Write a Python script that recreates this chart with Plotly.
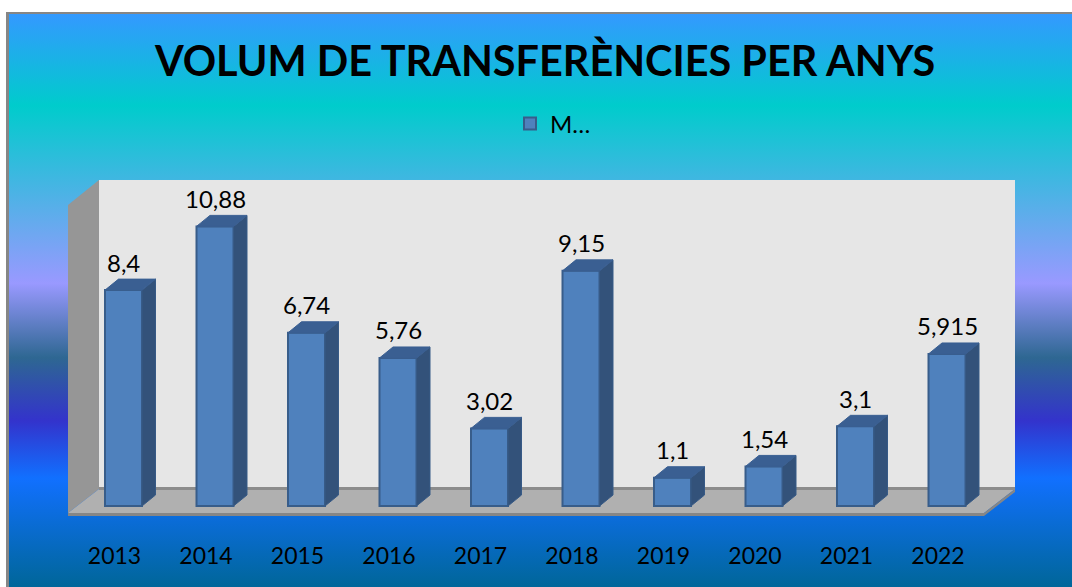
import base64
import plotly.graph_objects as go

years = [2013, 2014, 2015, 2016, 2017, 2018, 2019, 2020, 2021, 2022]
values = [8.4, 10.88, 6.74, 5.76, 3.02, 9.15, 1.1, 1.54, 3.1, 5.915]
labels = ["8,4", "10,88", "6,74", "5,76", "3,02", "9,15", "1,1", "1,54", "3,1", "5,915"]
series_name = "M…"
title_text = "VOLUM DE TRANSFERÈNCIES PER ANYS"
gradient = [(0, "#3399FF"), (16, "#00CCCC"), (47, "#9999FF"), (60, "#2E6792"),
            (71, "#3333CC"), (81, "#1170FF"), (100, "#006699")]

W, H = 1072, 587
L, R, T, B = 68, 1015, 180, 516      # plot box in pixels
X0_PX, PITCH = 123.5, 91.5           # centre of first bar, pixels per year
Y0_PX, UNIT = 506.0, 25.7            # baseline, pixels per value unit
BAR_W = 37 / PITCH
DX, DY = 13.5 / PITCH, 11 / UNIT     # bar depth offset in axis units

def px(x):
    return (x - L) / (R - L)

def py(y):
    return (B - y) / (B - T)

def path(points):
    return "M" + "L".join(f"{px(x):.5f},{py(y):.5f}" for x, y in points) + "Z"

def poly(points, color):
    return dict(type="path", xref="paper", yref="paper", layer="below", path=path(points),
                fillcolor=color, line=dict(width=0))

stops = "".join(f'<stop offset="{o}%" stop-color="{c}"/>' for o, c in gradient)
svg = ('<svg xmlns="http://www.w3.org/2000/svg" width="100" height="573" preserveAspectRatio="none">'
       f'<defs><linearGradient id="g" x1="0" y1="0" x2="0" y2="1">{stops}</linearGradient></defs>'
       '<rect width="100" height="573" fill="url(#g)"/></svg>')
bg_src = "data:image/svg+xml;base64," + base64.b64encode(svg.encode()).decode()

side_x, side_y, top_x, top_y = [], [], [], []
for yr, v in zip(years, values):
    r = yr + BAR_W / 2
    l = yr - BAR_W / 2
    side_x += [r, r + DX, r + DX, r, r, None]
    side_y += [0, DY, v + DY, v, 0, None]
    top_x += [l, l + DX, r + DX, r, l, None]
    top_y += [v, v + DY, v + DY, v, v, None]

fig = go.Figure()
fig.add_trace(go.Bar(x=years, y=values, width=BAR_W, name=series_name, showlegend=True,
                     marker=dict(color="#4F81BD", line=dict(color="#385D8A", width=2))))
fig.add_trace(go.Scatter(x=side_x, y=side_y, mode="lines", fill="toself", fillcolor="#33527A",
                         line=dict(color="#375A86", width=1), showlegend=False, hoverinfo="skip"))
fig.add_trace(go.Scatter(x=top_x, y=top_y, mode="lines", fill="toself", fillcolor="#3A5F92",
                         line=dict(color="#3A5F92", width=1), showlegend=False, hoverinfo="skip"))

annotations = [dict(x=yr, y=v, text=t, showarrow=False, yshift=28, yanchor="middle",
                    font=dict(family="Lato", size=24, color="black"))
               for yr, v, t in zip(years, values, labels)]

shapes = [
    poly([(68, 205), (99, 180), (99, 489), (68, 513)], "#969696"),
    poly([(99, 180), (1015, 180), (1015, 489), (99, 489)], "#E6E6E6"),
    poly([(68, 513), (99, 489), (1015, 489), (984, 513)], "#B0B0B0"),
    poly([(68, 513), (984, 513), (984, 516), (68, 516)], "#868686"),
    poly([(984, 513), (1015, 489), (1015, 492), (984, 516)], "#868686"),
    poly([(99, 487), (1015, 487), (1015, 490), (99, 490)], "#8C8C8C"),
    poly([(6, 12), (W, 12), (W, 14), (9, 14), (9, H), (6, H)], "#868686"),
]

fig.update_layout(
    width=W, height=H, autosize=False,
    margin=dict(l=L, r=W - R, t=T, b=H - B),
    paper_bgcolor="white", plot_bgcolor="rgba(0,0,0,0)",
    font=dict(family="Lato", color="black"),
    title=dict(text=f"<b>{title_text}</b>", x=545 / W, xanchor="center", y=1 - 62 / H, yanchor="middle",
               font=dict(family="Lato", size=41.4, color="black")),
    legend=dict(x=px(510), xanchor="left", y=py(124), yanchor="middle", orientation="h",
                bgcolor="rgba(0,0,0,0)", font=dict(size=24), itemwidth=30),
    images=[dict(source=bg_src, xref="paper", yref="paper", x=px(9), y=py(14),
                 sizex=(W - 9) / (R - L), sizey=(H - 14) / (B - T), sizing="stretch",
                 xanchor="left", yanchor="top", layer="below")],
    shapes=shapes,
    annotations=annotations,
    xaxis=dict(range=[years[0] + (L - X0_PX) / PITCH, years[0] + (R - X0_PX) / PITCH],
               tickmode="array", tickvals=years, ticktext=[str(y) for y in years],
               showgrid=False, zeroline=False, showline=False, ticks="",
               tickfont=dict(family="Lato", size=23, color="black"),
               ticklabelshift=-9, ticklabelstandoff=24),
    yaxis=dict(range=[(Y0_PX - B) / UNIT, (Y0_PX - T) / UNIT], visible=False, showgrid=False, zeroline=False),
)

fig.write_html("out.html", config={"displayModeBar": False},
               post_script="document.body.style.margin='0';document.documentElement.style.overflow='hidden';")
